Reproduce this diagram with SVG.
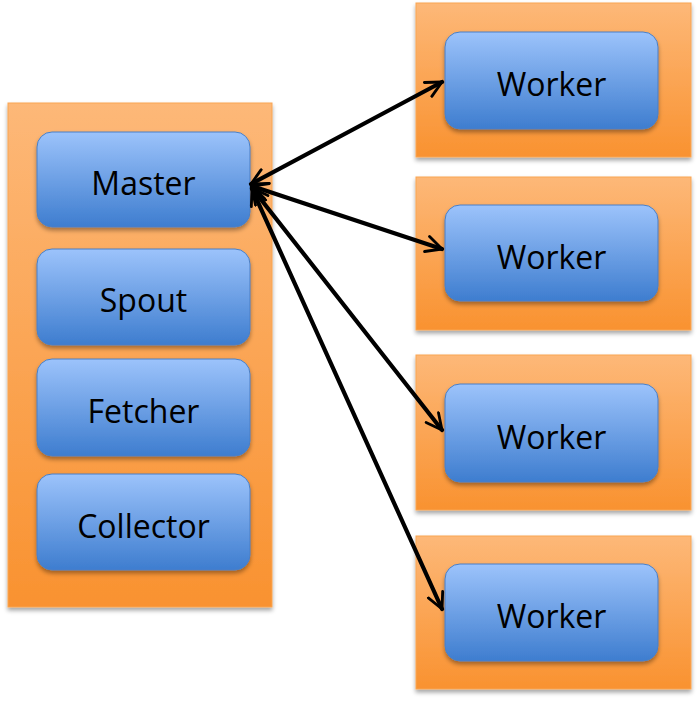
<svg xmlns="http://www.w3.org/2000/svg" width="698" height="701" viewBox="0 0 698 701">
<defs>
<linearGradient id="gOrange" x1="0" y1="0" x2="0" y2="1">
<stop offset="0" stop-color="#fdb878"/>
<stop offset="1" stop-color="#f99230"/>
</linearGradient>
<linearGradient id="gBlue" x1="0" y1="0" x2="0" y2="1">
<stop offset="0" stop-color="#9cc3fb"/>
<stop offset="1" stop-color="#3e7dcf"/>
</linearGradient>
<filter id="shadow" x="-10%" y="-10%" width="125%" height="130%">
<feDropShadow dx="0" dy="3" stdDeviation="2" flood-color="#000" flood-opacity="0.35"/>
</filter>
<marker id="arrow" viewBox="0 0 12 12" refX="11" refY="6" markerWidth="4.5" markerHeight="4.5" orient="auto-start-reverse" markerUnits="strokeWidth">
<path d="M1,1 L11,6 L1,11" fill="none" stroke="#000" stroke-width="1.8" stroke-linecap="round" stroke-linejoin="round"/>
</marker>
</defs>
<style>
.container{fill:url(#gOrange);stroke:#f9a552;stroke-width:1;filter:url(#shadow)}
.box{fill:url(#gBlue);stroke:#4a7fc6;stroke-width:1;filter:url(#shadow)}
.label{font-family:"Open Sans","Liberation Sans",sans-serif;font-size:32px;fill:#000;text-anchor:middle}
.conn{fill:none;stroke:#000;stroke-width:4.2;stroke-linecap:round;marker-start:url(#arrow);marker-end:url(#arrow)}
</style>
<g id="left-container">
<rect class="container" x="8" y="103" width="264" height="504"/>
</g>
<g id="master">
<rect class="box" x="37" y="132" width="213" height="95" rx="15"/>
<text class="label" x="143.5" y="195">Master</text>
</g>
<g id="spout">
<rect class="box" x="37" y="249" width="213" height="96" rx="15"/>
<text class="label" x="143.5" y="312">Spout</text>
</g>
<g id="fetcher">
<rect class="box" x="37" y="359" width="213" height="97" rx="15"/>
<text class="label" x="143.5" y="423">Fetcher</text>
</g>
<g id="collector">
<rect class="box" x="37" y="474" width="213" height="96" rx="15"/>
<text class="label" x="143.5" y="538">Collector</text>
</g>
<g id="worker1">
<rect class="container" x="416" y="3" width="275" height="154"/>
<rect class="box" x="445" y="32" width="213" height="97" rx="15"/>
<text class="label" x="551.5" y="96">Worker</text>
</g>
<g id="worker2">
<rect class="container" x="416" y="177" width="275" height="153"/>
<rect class="box" x="445" y="205" width="213" height="96" rx="15"/>
<text class="label" x="551.5" y="269">Worker</text>
</g>
<g id="worker3">
<rect class="container" x="416" y="355" width="275" height="155"/>
<rect class="box" x="445" y="384" width="213" height="98" rx="15"/>
<text class="label" x="551.5" y="449">Worker</text>
</g>
<g id="worker4">
<rect class="container" x="416" y="536" width="275" height="153"/>
<rect class="box" x="445" y="564" width="213" height="97" rx="15"/>
<text class="label" x="551.5" y="628">Worker</text>
</g>
<g id="connectors">
<line class="conn" x1="251" y1="184" x2="442" y2="82"/>
<line class="conn" x1="252" y1="186" x2="442" y2="249"/>
<line class="conn" x1="252" y1="188" x2="442" y2="430"/>
<line class="conn" x1="252" y1="189" x2="442" y2="609"/>
</g>
</svg>
